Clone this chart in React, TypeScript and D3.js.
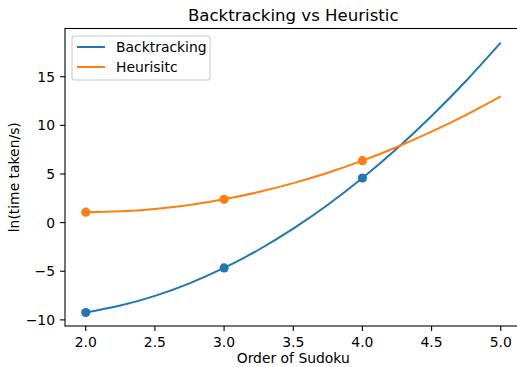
import React from 'react'
import * as d3 from 'd3'

// points
const order = [2, 2.25, 2.5, 2.75, 3, 3.25, 3.5, 3.75, 4, 4.25, 4.5, 4.75, 5]
const backtracking = [-9.24, -8.53, -7.53, -6.24, -4.66, -2.79, -0.62, 1.84, 4.59, 7.63, 10.97, 14.59, 18.51]
const heuristic = [1.07, 1.16, 1.41, 1.82, 2.4, 3.15, 4.06, 5.13, 6.37, 7.78, 9.35, 11.08, 12.98]

const measuredOrder = [2, 3, 4]
const backtrackingMeasured = [-9.24, -4.66, 4.59]
const heuristicMeasured = [1.07, 2.4, 6.37]

const xTicks = [2.0, 2.5, 3.0, 3.5, 4.0, 4.5, 5.0]
const yTicks = [-10, -5, 0, 5, 10, 15]

const W = 517, H = 367
const left = 65, right = 521.5, top = 28.5, bottom = 326
const font = 'DejaVu Sans, sans-serif'
const blue = '#1f77b4', orange = '#ff7f0e'
const fs = 13.9

export default function App() {
  const x = d3.scaleLinear().domain([1.85, 5.15]).range([left, right])
  const y = d3.scaleLinear().domain([-10.63, 19.96]).range([bottom, top])

  const line = d3.line<number>()
    .x((d, i) => x(order[i]))
    .y(d => y(d))
    .curve(d3.curveNatural)

  const series = [
    { name: 'Backtracking', color: blue, vals: backtracking, pts: backtrackingMeasured },
    { name: 'Heurisitc', color: orange, vals: heuristic, pts: heuristicMeasured },
  ]

  return (
    <svg width={W} height={H} style={{ position: 'absolute', left: 0, top: 0 }} fontFamily={font}>
      <rect width={W} height={H} fill="#fff" />
      <text x={(left + right) / 2} y={21} fontSize={16.6} textAnchor="middle">Backtracking vs Heuristic</text>

      {series.map(s => (
        <g key={s.name}>
          <path d={line(s.vals) || ''} fill="none" stroke={s.color} strokeWidth={2} />
          {s.pts.map((v, i) => (
            <circle key={i} cx={x(measuredOrder[i])} cy={y(v)} r={4.6} fill={s.color} />
          ))}
        </g>
      ))}

      {/* spines */}
      <rect x={left} y={top} width={right - left} height={bottom - top} fill="none" stroke="#000" strokeWidth={1.1} />

      {xTicks.map(t => (
        <g key={t} transform={`translate(${x(t)},${bottom})`}>
          <line y2={4.9} stroke="#000" strokeWidth={1.1} />
          <text y={20.5} fontSize={fs} textAnchor="middle">{t.toFixed(1)}</text>
        </g>
      ))}
      {yTicks.map(t => (
        <g key={t} transform={`translate(${left},${y(t)})`}>
          <line x2={-4.9} stroke="#000" strokeWidth={1.1} />
          <text x={-10} dy="0.36em" fontSize={fs} textAnchor="end">{t < 0 ? '\u2212' + Math.abs(t) : t}</text>
        </g>
      ))}

      <text x={(left + right) / 2} y={363} fontSize={fs} textAnchor="middle">Order of Sudoku</text>
      <text transform={`translate(19,${(top + bottom) / 2}) rotate(-90)`} fontSize={fs} textAnchor="middle">ln(time taken/s)</text>

      {/* legend */}
      <rect x={72} y={36} width={138} height={44} rx={2.8} fill="#fff" fillOpacity={0.8} stroke="#ccc" strokeWidth={1.1} />
      {series.map((s, i) => (
        <g key={s.name} transform={`translate(77,${47 + i * 20})`}>
          <line x1={0} x2={28} stroke={s.color} strokeWidth={2} />
          <text x={39} dy="0.36em" fontSize={fs}>{s.name}</text>
        </g>
      ))}
    </svg>
  )
}
